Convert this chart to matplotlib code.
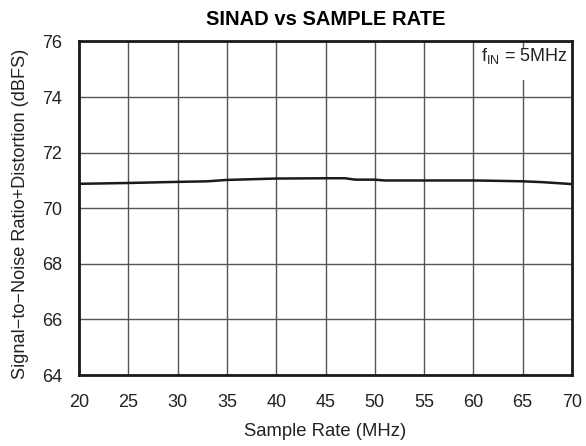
import matplotlib
matplotlib.use('Agg')
import matplotlib.pyplot as plt
from matplotlib.patches import Rectangle

plt.rcParams['font.family'] = ['Liberation Sans', 'DejaVu Sans']

# datos
sample_rate = [20, 25, 30, 33, 35, 40, 45, 47, 48, 50, 51, 55, 60, 62, 65, 67, 70]
sinad = [70.88, 70.91, 70.95, 70.97, 71.02, 71.07, 71.08, 71.08, 71.03, 71.03,
         71.0, 71.0, 71.0, 70.99, 70.97, 70.94, 70.87]

x_ticks = [20, 25, 30, 35, 40, 45, 50, 55, 60, 65, 70]
y_ticks = [64, 66, 68, 70, 72, 74, 76]

fig = plt.figure(figsize=(5.86, 4.46), dpi=100)
ax = fig.add_axes([0.135, 0.159, 0.841, 0.748])

ax.plot(sample_rate, sinad, color='#1a1a1a', linewidth=1.8, zorder=3)

ax.set_xlim(20, 70)
ax.set_ylim(64, 76)
ax.set_xticks(x_ticks)
ax.set_yticks(y_ticks)
ax.tick_params(length=0, labelsize=13, colors='#222222')
ax.tick_params(axis='x', pad=13.5)
ax.tick_params(axis='y', pad=12)
ax.grid(True, color='#555555', linewidth=1.0)
ax.set_axisbelow(True)
for s in ax.spines.values():
    s.set_linewidth(2.0)
    s.set_color('#1a1a1a')

ax.set_xlabel('Sample Rate (MHz)', fontsize=13.3, color='#222222', labelpad=9)
ax.set_ylabel('Signal\u2212to\u2212Noise Ratio+Distortion (dBFS)', fontsize=13.1,
              color='#222222')
ax.yaxis.set_label_coords(-0.101, 0.484)
ax.set_title('SINAD vs SAMPLE RATE', fontsize=14.5, fontweight='bold', pad=12)

# caja blanca detras de la anotacion
ax.add_patch(Rectangle((0.809, 0.885), 0.191, 0.095, transform=ax.transAxes,
                       facecolor='white', edgecolor='none', zorder=1))
ax.text(0.992, 0.957, r'f$_{\mathregular{IN}}$ = 5MHz', transform=ax.transAxes,
        ha='right', va='center', fontsize=13, color='#222222', zorder=4)

plt.savefig('out.png', dpi=100)
